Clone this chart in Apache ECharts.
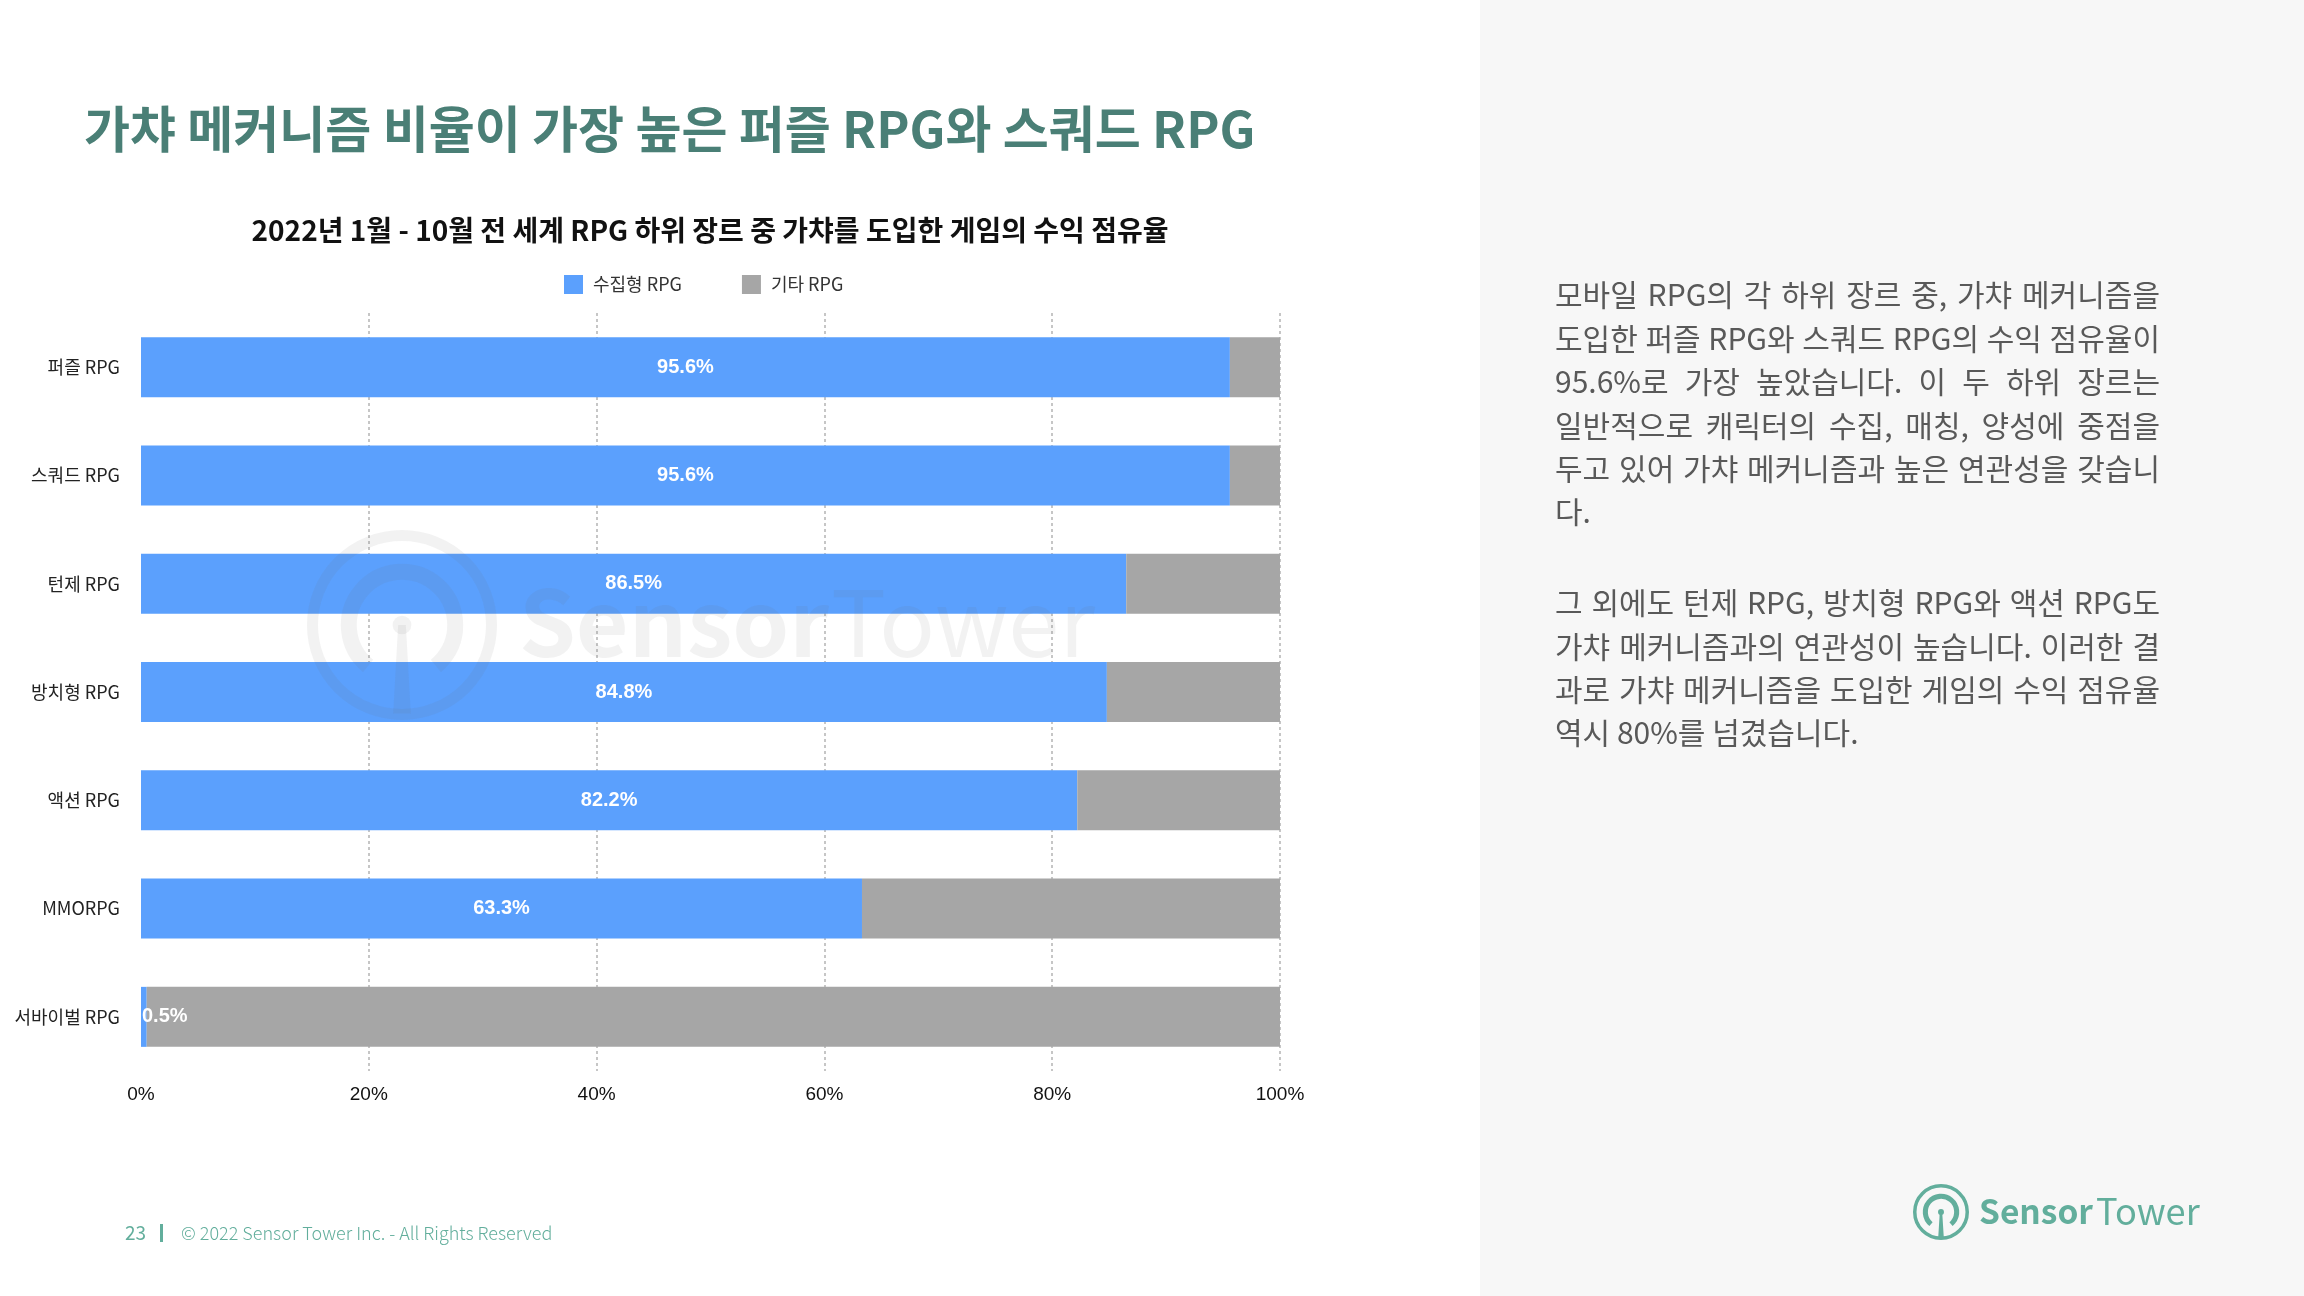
<!DOCTYPE html>
<html>
<head>
<meta charset="utf-8">
<script src="https://cdn.jsdelivr.net/npm/echarts@6/dist/echarts.min.js"></script>
<style>
html,body{margin:0;padding:0;background:#fff;}
#chart{width:2304px;height:1296px;}
</style>
</head>
<body>
<div id="chart"></div>
<script>
// ---- data ----
const categories = ['퍼즐 RPG', '스쿼드 RPG', '턴제 RPG', '방치형 RPG', '액션 RPG', 'MMORPG', '서바이벌 RPG'];
const gachaShare = [95.6, 95.6, 86.5, 84.8, 82.2, 63.3, 0.5];
const otherShare = [4.4, 4.4, 13.5, 15.2, 17.8, 36.7, 99.5];
const seriesNames = ['수집형 RPG', '기타 RPG'];
const tickStep = 20;

const pageTitle = '가챠 메커니즘 비율이 가장 높은 퍼즐 RPG와 스쿼드 RPG';
const chartTitle = '2022년 1월 - 10월 전 세계 RPG 하위 장르 중 가챠를 도입한 게임의 수익 점유율';
const para1 = [
  '모바일 RPG의 각 하위 장르 중, 가챠 메커니즘을',
  '도입한 퍼즐 RPG와 스쿼드 RPG의 수익 점유율이',
  '95.6%로 가장 높았습니다. 이 두 하위 장르는',
  '일반적으로 캐릭터의 수집, 매칭, 양성에 중점을',
  '두고 있어 가챠 메커니즘과 높은 연관성을 갖습니',
  '다.'
];
const para2 = [
  '그 외에도 턴제 RPG, 방치형 RPG와 액션 RPG도',
  '가챠 메커니즘과의 연관성이 높습니다. 이러한 결',
  '과로 가챠 메커니즘을 도입한 게임의 수익 점유율',
  '역시 80%를 넘겼습니다.'
];
const footerPage = '23';
const footerText = '© 2022 Sensor Tower Inc. - All Rights Reserved';

// ---- styles ----
const KR = '"Noto Sans CJK KR", "Noto Sans", sans-serif';
const TEAL = '#62ae9c';
const TITLE_TEAL = '#4a7f76';
const BLUE = '#5ba0fd';
const GREY = '#a6a6a6';

const chart = echarts.init(document.getElementById('chart'), null, {renderer: 'canvas'});

const mctx = document.createElement('canvas').getContext('2d');
function measure(text, font) { mctx.font = font; return mctx.measureText(text).width; }

function textLine(text, x, y, width, font, color, justify) {
  if (!justify) {
    return [{type: 'text', x: x, y: y, style: {text: text, font: font, fill: color, align: 'left', verticalAlign: 'middle'}}];
  }
  const words = text.split(' ');
  const ws = words.map(w => measure(w, font));
  const total = ws.reduce((a, b) => a + b, 0);
  const gap = (width - total) / (words.length - 1);
  const out = [];
  let cx = x;
  words.forEach((w, i) => {
    out.push({type: 'text', x: cx, y: y, style: {text: w, font: font, fill: color, align: 'left', verticalAlign: 'middle'}});
    cx += ws[i] + gap;
  });
  return out;
}

function logoIcon(cx, cy, r, ring, color, opacity, z) {
  const els = [];
  els.push({type: 'circle', z: z, shape: {cx: cx, cy: cy, r: r - ring / 2}, style: {fill: 'none', stroke: color, lineWidth: ring, opacity: opacity}});
  els.push({type: 'arc', z: z, shape: {cx: cx, cy: cy, r: r * 0.56, startAngle: Math.PI * 0.72, endAngle: Math.PI * 2.28, clockwise: true}, style: {fill: 'none', stroke: color, lineWidth: ring * 1.45, opacity: opacity}});
  els.push({type: 'circle', z: z, shape: {cx: cx, cy: cy, r: ring * 0.85}, style: {fill: color, opacity: opacity}});
  els.push({type: 'polygon', z: z, shape: {points: [[cx - ring * 0.35, cy], [cx + ring * 0.35, cy], [cx + ring * 0.8, cy + r - ring * 0.6], [cx - ring * 0.8, cy + r - ring * 0.6]]}, style: {fill: color, opacity: opacity}});
  return els;
}

// word mark "Sensor"(bold) + "Tower"(regular), each sized to span the given widths
function wordMark(x, y, sensorW, towerX, towerW, fill, z) {
  const base = 100;
  const s1 = base * sensorW / measure('Sensor', 'bold ' + base + 'px ' + KR);
  const s2 = Math.min(s1 * 1.08, base * towerW / measure('Tower', '400 ' + base + 'px ' + KR));
  return [
    {type: 'text', z: z, x: x, y: y, style: {text: 'Sensor', font: 'bold ' + s1 + 'px ' + KR, fill: fill, align: 'left', verticalAlign: 'middle'}},
    {type: 'text', z: z, x: towerX, y: y, style: {text: 'Tower', font: '400 ' + s2 + 'px ' + KR, fill: fill, align: 'left', verticalAlign: 'middle'}}
  ];
}

const bodyFont = '400 30px ' + KR;
const textX = 1555, textW = 605;
const graphics = [];
graphics.push({type: 'rect', z: -10, shape: {x: 1480, y: 0, width: 824, height: 1296}, style: {fill: '#f7f7f7'}});
graphics.push({type: 'text', x: 84, y: 129, style: {text: pageTitle, font: 'bold 50px ' + KR, fill: TITLE_TEAL, align: 'left', verticalAlign: 'middle'}});
graphics.push({type: 'text', x: 710, y: 230, style: {text: chartTitle, font: 'bold 28px ' + KR, fill: '#111', align: 'center', verticalAlign: 'middle'}});

const p1y = [295, 338.4, 381.8, 425.2, 468.6, 512];
para1.forEach((t, i) => graphics.push(...textLine(t, textX, p1y[i], textW, bodyFont, '#595959', i < para1.length - 1)));
const p2y = [603, 646.3, 689.7, 733];
para2.forEach((t, i) => graphics.push(...textLine(t, textX, p2y[i], textW, bodyFont, '#595959', i < para2.length - 1)));

graphics.push({type: 'text', x: 125, y: 1233, style: {text: footerPage, font: '400 19px ' + KR, fill: TEAL, align: 'left', verticalAlign: 'middle'}});
graphics.push({type: 'rect', shape: {x: 160, y: 1224, width: 3, height: 18}, style: {fill: TEAL}});
graphics.push({type: 'text', x: 181, y: 1233, style: {text: footerText, font: '300 18px ' + KR, fill: TEAL, align: 'left', verticalAlign: 'middle'}});

// bottom-right logo
graphics.push(...logoIcon(1941, 1212, 28, 3.5, TEAL, 1, 5));
graphics.push(...wordMark(1979, 1211, 114, 2096, 107, TEAL, 5));

// watermark
graphics.push(...logoIcon(402, 625, 95, 11, '#6e6e6e', 0.09, 50));
graphics.push(...wordMark(519, 622, 310, 831, 264, 'rgba(110,110,110,0.09)', 50));

const gachaData = gachaShare.map(v => v < 5 ? {value: v, label: {position: 'insideLeft', distance: 1}} : v);

const option = {
  backgroundColor: '#ffffff',
  animation: false,
  legend: {
    data: seriesNames,
    left: 564,
    top: 275,
    padding: 0,
    itemWidth: 19,
    itemHeight: 19,
    itemGap: 60,
    icon: 'rect',
    textStyle: {fontSize: 18, color: '#333', fontFamily: KR, padding: [0, 0, 0, 5]}
  },
  grid: {left: 141, right: 1024, top: 313, bottom: 225, containLabel: false},
  xAxis: {
    type: 'value',
    min: 0,
    max: 100,
    interval: tickStep,
    axisLine: {show: false},
    axisTick: {show: false},
    axisLabel: {formatter: '{value}%', fontSize: 19, color: '#111', margin: 14, fontFamily: '"Liberation Sans", Arial, sans-serif'},
    splitLine: {show: true, showMinLine: false, lineStyle: {type: [3, 3], color: '#c6c6c6', width: 2}}
  },
  yAxis: {
    type: 'category',
    data: categories,
    inverse: true,
    axisLine: {show: false},
    axisTick: {show: false},
    axisLabel: {fontSize: 18, color: '#222', margin: 21, fontFamily: KR}
  },
  series: [
    {
      name: seriesNames[0],
      type: 'bar',
      stack: 'total',
      barWidth: 60,
      itemStyle: {color: BLUE},
      label: {show: true, position: 'inside', formatter: '{c}%', color: '#fff', fontWeight: 'bold', fontSize: 20, fontFamily: '"Liberation Sans", Arial, sans-serif'},
      data: gachaData
    },
    {
      name: seriesNames[1],
      type: 'bar',
      stack: 'total',
      barWidth: 60,
      itemStyle: {color: GREY},
      data: otherShare
    }
  ],
  graphic: {elements: graphics}
};
chart.setOption(option);
</script>
</body>
</html>
